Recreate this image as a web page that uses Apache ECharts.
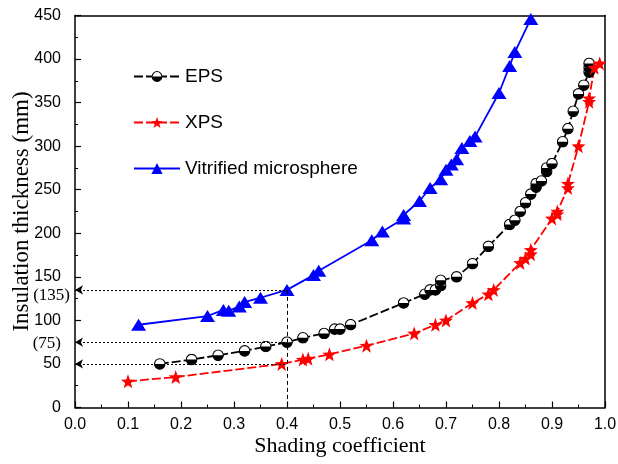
<!DOCTYPE html>
<html>
<head>
<meta charset="utf-8">
<script src="https://cdn.jsdelivr.net/npm/echarts@6/dist/echarts.min.js"></script>
<style>
html,body{margin:0;padding:0;background:#fff;}
#c{width:618px;height:464px;}
</style>
</head>
<body>
<div id="c"></div>
<script>
// ---- Data ----
const epsX = [0.16,0.22,0.27,0.32,0.36,0.40,0.43,0.47,0.49,0.50,0.52,0.62,0.66,0.67,0.68,0.69,0.69,0.72,0.75,0.78,0.82,0.83,0.84,0.85,0.86,0.87,0.87,0.88,0.89,0.89,0.90,0.92,0.93,0.94,0.95,0.96,0.97,0.97,0.97];
const epsY = [50,55,60,65,70,75,80,85,90,90,95,120,130,135,135,140,146,150,165,185,210,215,225,235,245,253,257,260,271,275,280,305,320,340,360,370,385,390,395];

const xpsX = [0.10,0.19,0.39,0.43,0.44,0.48,0.55,0.64,0.68,0.70,0.75,0.78,0.79,0.84,0.85,0.86,0.86,0.90,0.91,0.91,0.93,0.93,0.95,0.97,0.97,0.98,0.99];
const xpsY = [30,35,50,55,56,61,71,85,95,100,120,130,135,166,171,176,181,217,222,225,252,257,300,351,355,390,395];

const vitX = [0.12,0.25,0.28,0.29,0.31,0.32,0.35,0.40,0.45,0.46,0.56,0.58,0.62,0.62,0.65,0.67,0.69,0.70,0.71,0.72,0.73,0.745,0.755,0.80,0.82,0.83,0.86];
const vitY = [95,105,112,111,116,121,126,135,152,157,192,202,217,221,237,252,262,273,279,285,298,306,311,361,392,408,446];

const seriesNames = ['EPS', 'XPS', 'Vitrified microsphere'];
const refX = 0.4;
const refY = [135, 75, 50];
const refLabels = ['(135)', '(75)'];

const pairs = (xs, ys) => xs.map((x, i) => [x, ys[i]]);

const epsSvg = "<svg xmlns='http://www.w3.org/2000/svg' width='24' height='24' viewBox='0 0 24 24'>" +
  "<circle cx='12' cy='12' r='10.5' fill='white' stroke='black' stroke-width='2.2'/>" +
  "<path d='M1.5 12 A10.5 10.5 0 0 0 22.5 12 Z' fill='black'/></svg>";
const epsSymbol = 'image://data:image/svg+xml;charset=utf-8,' + encodeURIComponent(epsSvg);
const starSymbol = 'path://M12,0.5 L14.9,8.6 L23.5,8.9 L16.7,14.2 L19.1,22.5 L12,17.6 L4.9,22.5 L7.3,14.2 L0.5,8.9 L9.1,8.6 Z';

const chart = echarts.init(document.getElementById('c'), null, {renderer: 'canvas'});

const axisFont = {fontFamily: 'Liberation Sans, Arial, sans-serif', fontSize: 16, color: '#000'};
const nameFont = {fontFamily: 'Liberation Serif, Times New Roman, serif', fontSize: 22, color: '#000'};

const option = {
  animation: false,
  backgroundColor: '#fff',
  grid: {left: 75, right: 13, top: 15.5, bottom: 56.5, containLabel: false, outerBoundsMode: 'none'},
  legend: {
    orient: 'vertical',
    left: 128,
    top: 62,
    itemWidth: 46,
    itemHeight: 14,
    itemGap: 27,
    textStyle: {fontFamily: 'Liberation Sans, Arial, sans-serif', fontSize: 19, color: '#000'},
    data: seriesNames
  },
  xAxis: [{
    type: 'value', min: 0, max: 1, interval: 0.1,
    name: 'Shading coefficient', nameLocation: 'middle', nameGap: 28,
    nameMoveOverlap: false,
    nameTextStyle: nameFont,
    axisLine: {show: true, onZero: false, lineStyle: {color: '#000', width: 1.5}},
    axisTick: {show: true, inside: true, length: 6, lineStyle: {color: '#000', width: 1.2}},
    minorTick: {show: true, splitNumber: 2, length: 3, lineStyle: {color: '#000', width: 1}},
    axisLabel: Object.assign({margin: 9, formatter: v => v.toFixed(1)}, axisFont),
    splitLine: {show: false}
  }, {
    type: 'value', min: 0, max: 1, position: 'top',
    axisLine: {show: true, onZero: false, lineStyle: {color: '#000', width: 1.5}},
    axisTick: {show: false}, axisLabel: {show: false}, splitLine: {show: false}
  }],
  yAxis: [{
    type: 'value', min: 0, max: 450, interval: 50,
    name: 'Insulation thickness (mm)', nameLocation: 'middle', nameGap: 42,
    nameMoveOverlap: false,
    nameTextStyle: Object.assign({}, nameFont, {fontSize: 23}),
    axisLine: {show: true, onZero: false, lineStyle: {color: '#000', width: 1.5}},
    axisTick: {show: true, inside: true, length: 6, lineStyle: {color: '#000', width: 1.2}},
    minorTick: {show: true, splitNumber: 2, length: 3, lineStyle: {color: '#000', width: 1}},
    axisLabel: Object.assign({margin: 14}, axisFont),
    splitLine: {show: false}
  }, {
    type: 'value', min: 0, max: 450, position: 'right',
    axisLine: {show: true, onZero: false, lineStyle: {color: '#000', width: 1.5}},
    axisTick: {show: false}, axisLabel: {show: false}, splitLine: {show: false}
  }],
  series: [{
    name: seriesNames[0], type: 'line',
    data: pairs(epsX, epsY),
    symbol: epsSymbol, symbolSize: 12,
    lineStyle: {color: '#000', width: 1.8, type: [9, 3]},
    itemStyle: {color: '#000'},
    z: 3,
    markLine: {
      silent: true,
      symbol: ['arrow', 'none'],
      symbolSize: [7, 8],
      label: {show: false},
      lineStyle: {color: '#000', width: 1, type: [2, 2]},
      data: [
        [{coord: [0, refY[0]]}, {coord: [refX, refY[0]]}],
        [{coord: [0, refY[1]]}, {coord: [refX, refY[1]]}],
        [{coord: [0, refY[2]]}, {coord: [refX, refY[2]]}],
        [{coord: [refX, refY[0]], symbol: 'none', lineStyle: {type: [4, 3]}},
         {coord: [refX, 0], symbol: 'none'}]
      ]
    }
  }, {
    name: seriesNames[1], type: 'line',
    data: pairs(xpsX, xpsY),
    symbol: starSymbol, symbolSize: 14,
    lineStyle: {color: '#ff0000', width: 1.8, type: [9, 3]},
    itemStyle: {color: '#ff0000'},
    z: 3
  }, {
    name: seriesNames[2], type: 'line',
    data: pairs(vitX, vitY),
    symbol: 'triangle', symbolSize: [15, 12],
    lineStyle: {color: '#0000ff', width: 1.8},
    itemStyle: {color: '#0000ff'},
    z: 3
  }]
};
chart.setOption(option);

// Extra reference labels on the y axis, positioned via the axis scale
const p135 = chart.convertToPixel({yAxisIndex: 0}, refY[0]);
const p75 = chart.convertToPixel({yAxisIndex: 0}, refY[1]);
const labelFont = '17px "Liberation Serif", "Times New Roman", serif';
chart.setOption({
  graphic: [
    {type: 'text', x: 70, y: p135 + 6, style: {text: refLabels[0], font: labelFont, fill: '#000', align: 'right', verticalAlign: 'middle'}},
    {type: 'text', x: 61, y: p75 + 1, style: {text: refLabels[1], font: labelFont, fill: '#000', align: 'right', verticalAlign: 'middle'}}
  ]
});
</script>
</body>
</html>
